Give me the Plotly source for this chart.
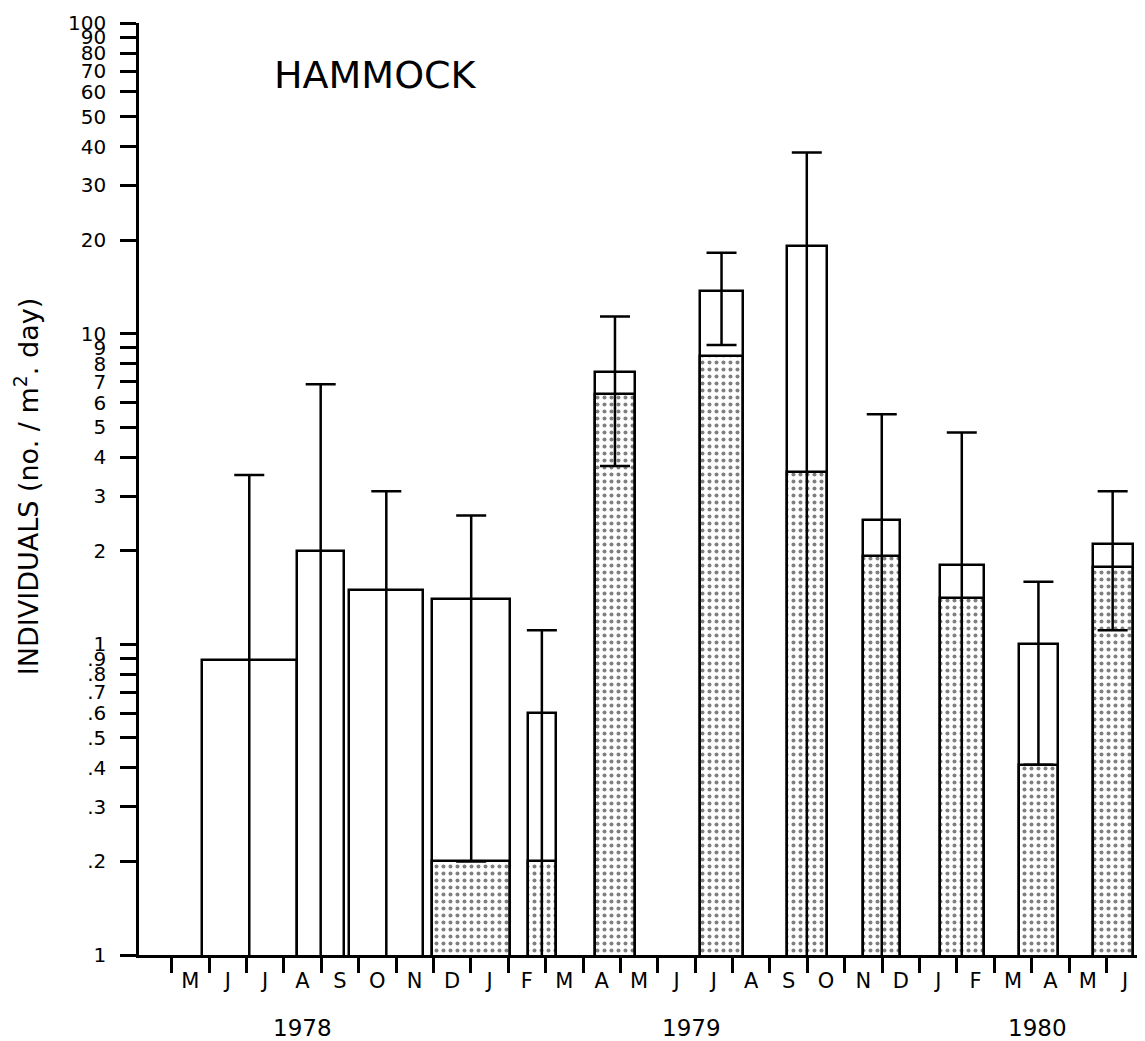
import plotly.graph_objects as go

# ---- data ----
# sampling periods, in months counted from the start of May 1978
period_start = [0.81, 3.36, 4.75, 6.97, 9.52, 11.32, 14.13, 16.45, 18.49, 20.54, 22.66, 24.63]
period_end   = [3.34, 4.61, 6.73, 9.05, 10.28, 12.39, 15.28, 17.52, 19.49, 21.72, 23.70, 25.70]
# total individuals (open bar height), shaded component, standard error
total_vals  = [0.89, 1.99, 1.50, 1.40, 0.60, 7.55, 13.7, 19.1, 2.51, 1.80, 1.00, 2.11]
shaded_vals = [None, None, None, 0.20, 0.20, 6.4, 8.5, 3.6, 1.92, 1.41, 0.41, 1.78]
se_vals     = [2.62, 4.88, 1.61, 1.20, 0.51, 3.8, 4.5, 19.2, 2.99, 3.01, 0.59, 1.0]

month_labels = ["M", "J", "J", "A", "S", "O", "N", "D",
                "J", "F", "M", "A", "M", "J", "J", "A", "S", "O", "N", "D",
                "J", "F", "M", "A", "M", "J"]
year_labels = ["1978", "1979", "1980"]
year_label_month = [3.5, 13.9, 23.15]

y_tickvals = [0.1, 0.2, 0.3, 0.4, 0.5, 0.6, 0.7, 0.8, 0.9,
              1, 2, 3, 4, 5, 6, 7, 8, 9,
              10, 20, 30, 40, 50, 60, 70, 80, 90, 100]
y_ticktext = ["1", ".2", ".3", ".4", ".5", ".6", ".7", ".8", ".9",
              "1", "2", "3", "4", "5", "6", "7", "8", "9",
              "10", "20", "30", "40", "50", "60", "70", "80", "90", "100"]

centers = [(a + b) / 2 for a, b in zip(period_start, period_end)]
widths = [b - a for a, b in zip(period_start, period_end)]

FONT = "DejaVu Sans"
LW = 2.5

fig = go.Figure()

# shaded component (drawn first)
fig.add_trace(go.Bar(
    x=centers, y=shaded_vals, width=widths,
    marker=dict(color="white",
                line=dict(color="black", width=LW),
                pattern=dict(shape=".", fgcolor="black", bgcolor="white",
                             size=7, solidity=0.26, fillmode="overlay")),
    showlegend=False, hoverinfo="skip",
))

# total (open bar) with standard error
fig.add_trace(go.Bar(
    x=centers, y=total_vals, width=widths,
    marker=dict(color="rgba(0,0,0,0)", line=dict(color="black", width=LW)),
    error_y=dict(type="data", array=se_vals, symmetric=True,
                 color="black", thickness=2.5, width=15),
    showlegend=False, hoverinfo="skip",
))

month_centers = [i + 0.5 for i in range(len(month_labels))]
month_bounds = list(range(len(month_labels) + 1))

fig.update_layout(
    width=1137, height=1033,
    margin=dict(l=131, r=0, t=15, b=86),
    paper_bgcolor="white", plot_bgcolor="white",
    barmode="overlay",
    bargap=0,
    font=dict(family=FONT, color="black", size=20),
    xaxis=dict(
        range=[-0.874, 26.03],
        showgrid=False, zeroline=False,
        showline=True, linecolor="black", linewidth=LW,
        tickmode="array", tickvals=month_centers, ticktext=month_labels,
        ticks="outside", ticklen=5, tickcolor="rgba(0,0,0,0)",
        tickangle=0,
        tickfont=dict(family=FONT, size=21, color="black"),
        minor=dict(tickmode="array", tickvals=month_bounds, ticks="outside",
                   ticklen=15, tickwidth=LW, tickcolor="black", showgrid=False),
    ),
    yaxis=dict(
        type="log", range=[-1, 2],
        showgrid=False, zeroline=False,
        showline=True, linecolor="black", linewidth=LW,
        tickmode="array", tickvals=y_tickvals, ticktext=y_ticktext,
        ticks="outside", ticklen=16, tickwidth=LW, tickcolor="black",
        ticklabelstandoff=10,
        tickfont=dict(family=FONT, size=20, color="black"),
    ),
)

annotations = [
    dict(text="HAMMOCK", xref="paper", yref="paper", x=0.2346, y=0.944,
         xanchor="center", yanchor="middle", showarrow=False,
         font=dict(family=FONT, size=38, color="black")),
    dict(text="INDIVIDUALS (no. / m<sup>2</sup>. day)", xref="paper", yref="paper",
         x=-0.1123, y=0.502, xanchor="center", yanchor="middle", textangle=-90,
         showarrow=False, font=dict(family=FONT, size=27, color="black")),
]
for lab, pos in zip(year_labels, year_label_month):
    annotations.append(dict(text=lab, xref="x", yref="paper", x=pos, y=-0.0783,
                            xanchor="center", yanchor="middle", showarrow=False,
                            font=dict(family=FONT, size=23, color="black")))
fig.update_layout(annotations=annotations)

fig.write_html("out.html")
